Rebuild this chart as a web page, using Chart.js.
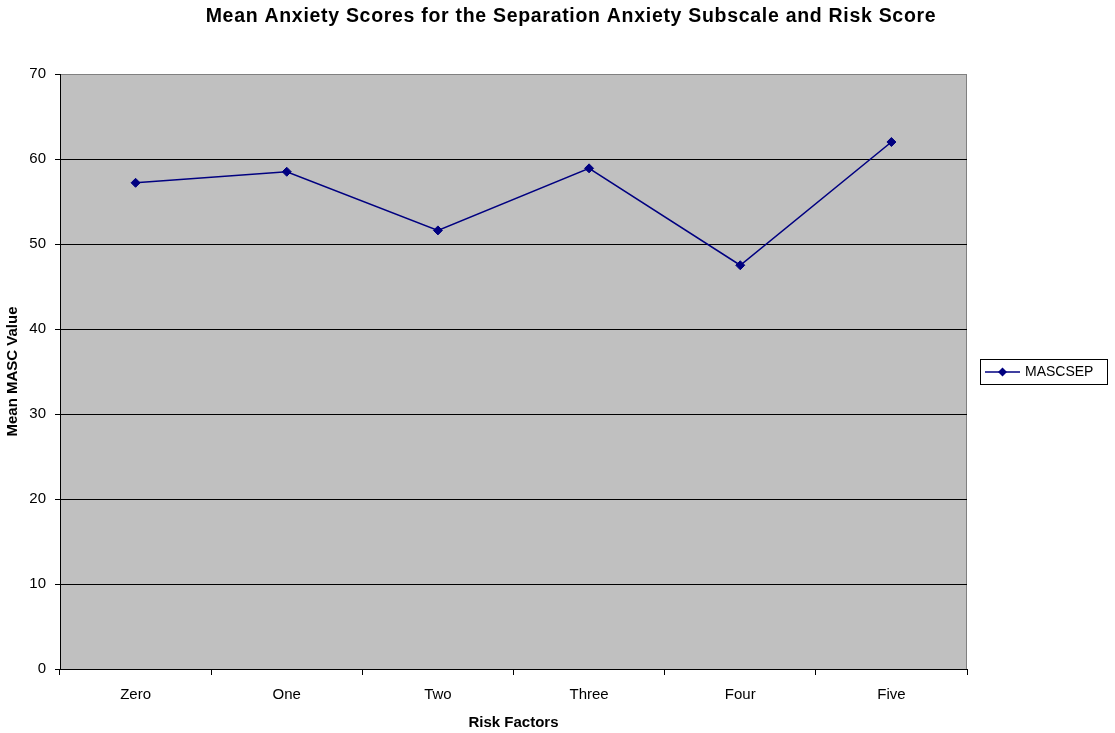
<!DOCTYPE html>
<html>
<head>
<meta charset="utf-8">
<script src="https://cdn.jsdelivr.net/npm/chart.js@4"></script>
<style>
  html, body { margin: 0; padding: 0; background: #fff; }
  #wrap { width: 1115px; height: 733px; }
</style>
</head>
<body>
<div id="wrap"><canvas id="myChart" width="1115" height="733"></canvas></div>
<script>
// datos
const categorias = ["Zero", "One", "Two", "Three", "Four", "Five"];
const mascsep = [57.2, 58.5, 51.6, 58.9, 47.5, 62.0];
const yTicks = [0, 10, 20, 30, 40, 50, 60, 70];

const titulo = "Mean Anxiety Scores for the Separation Anxiety Subscale and Risk Score";
const fuente = "'Liberation Sans', Arial, sans-serif";

// fondo gris del area del grafico y borde
const fondoPlugin = {
  id: "fondo",
  beforeDraw: (chart) => {
    const { ctx, chartArea: a } = chart;
    ctx.save();
    ctx.fillStyle = "#c0c0c0";
    ctx.fillRect(a.left, a.top, a.right - a.left, a.bottom - a.top);
    ctx.strokeStyle = "#808080";
    ctx.lineWidth = 1;
    ctx.strokeRect(a.left + 0.5, a.top + 0.5, a.right - a.left - 1, a.bottom - a.top);
    ctx.restore();
  },
};

// titulo y leyenda dibujados a mano
const extrasPlugin = {
  id: "extras",
  afterDraw: (chart) => {
    const { ctx } = chart;
    ctx.save();
    ctx.fillStyle = "#000";
    ctx.font = "bold 19.5px " + fuente;
    ctx.letterSpacing = "0.7px";
    ctx.textAlign = "center";
    ctx.textBaseline = "middle";
    ctx.fillText(titulo, 571, 17);
    ctx.letterSpacing = "0px";

    // leyenda
    const ds = chart.data.datasets[0];
    ctx.strokeStyle = "#000";
    ctx.lineWidth = 1;
    ctx.strokeRect(980.5, 359.5, 127, 25);
    ctx.strokeStyle = ds.borderColor;
    ctx.lineWidth = 1.5;
    ctx.beginPath();
    ctx.moveTo(985, 372);
    ctx.lineTo(1020, 372);
    ctx.stroke();
    ctx.fillStyle = ds.pointBackgroundColor;
    ctx.beginPath();
    ctx.moveTo(1002.5, 367.5);
    ctx.lineTo(1007, 372);
    ctx.lineTo(1002.5, 376.5);
    ctx.lineTo(998, 372);
    ctx.closePath();
    ctx.fill();
    ctx.fillStyle = "#000";
    ctx.font = "14px " + fuente;
    ctx.textAlign = "left";
    ctx.fillText(ds.label, 1025, 372.5);
    ctx.restore();
  },
};

const ctx = document.getElementById("myChart");
const myChart = new Chart(ctx, {
  type: "line",
  data: {
    labels: categorias,
    datasets: [
      {
        label: "MASCSEP",
        data: mascsep,
        borderColor: "#000080",
        backgroundColor: "#000080",
        pointBackgroundColor: "#000080",
        pointBorderColor: "#000080",
        borderWidth: 1.6,
        pointStyle: "rectRot",
        pointRadius: 4.5,
        pointBorderWidth: 1,
        tension: 0,
      },
    ],
  },
  options: {
    responsive: false,
    animation: false,
    devicePixelRatio: 1,
    layout: {
      padding: { top: 74, right: 148, left: 0, bottom: 0 },
    },
    scales: {
      x: {
        type: "category",
        offset: true,
        afterFit: (scale) => {
          scale.height = 64;
        },
        grid: {
          offset: true,
          drawOnChartArea: false,
          color: "#000",
          tickLength: 6,
          tickColor: "#000",
        },
        border: { color: "#000", width: 1 },
        ticks: {
          color: "#000",
          padding: 11,
          font: { family: fuente, size: 15 },
          maxRotation: 0,
        },
        title: {
          display: true,
          text: "Risk Factors",
          color: "#000",
          padding: { top: 0, bottom: 1 },
          font: { family: fuente, size: 15, weight: "bold" },
        },
      },
      y: {
        min: 0,
        max: 70,
        afterFit: (scale) => {
          scale.width = 60;
        },
        afterBuildTicks: (scale) => {
          scale.ticks = yTicks.map((v) => ({ value: v }));
        },
        grid: {
          color: (c) => (c.tick && c.tick.value === 70 ? "#808080" : "#000"),
          tickColor: "#000",
          tickLength: 5,
        },
        border: { color: "#000", width: 1 },
        ticks: {
          color: "#000",
          padding: 9,
          font: { family: fuente, size: 15 },
        },
        title: {
          display: true,
          text: "Mean MASC Value",
          color: "#000",
          padding: { top: 4, bottom: 0 },
          font: { family: fuente, size: 15, weight: "bold" },
        },
      },
    },
    plugins: {
      legend: { display: false },
      title: { display: false },
      tooltip: { enabled: false },
    },
  },
  plugins: [fondoPlugin, extrasPlugin],
});
</script>
</body>
</html>
